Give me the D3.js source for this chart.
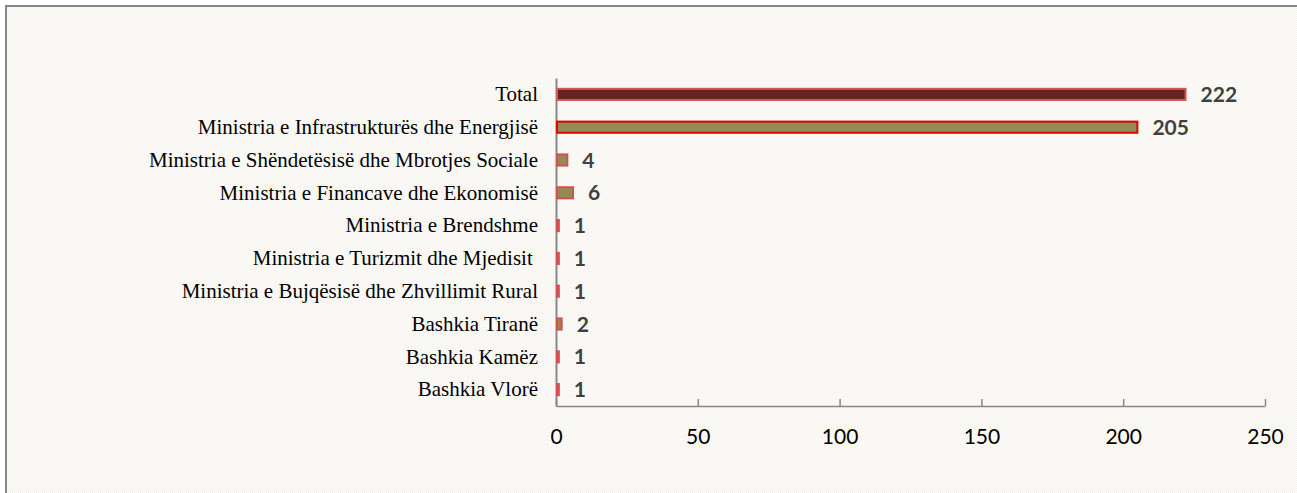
<!DOCTYPE html>
<html>
<head>
<meta charset="utf-8">
<script src="https://cdn.jsdelivr.net/npm/d3@7"></script>
<style>
body { margin: 0; background: #fff; }
svg { display: block; }
</style>
</head>
<body>
<svg width="1297" height="493"></svg>
<script>
const categories = [
  "Total",
  "Ministria e Infrastrukturës dhe Energjisë",
  "Ministria e Shëndetësisë dhe Mbrotjes Sociale",
  "Ministria e Financave dhe Ekonomisë",
  "Ministria e Brendshme",
  "Ministria e Turizmit dhe Mjedisit ",
  "Ministria e Bujqësisë dhe Zhvillimit Rural",
  "Bashkia Tiranë",
  "Bashkia Kamëz",
  "Bashkia Vlorë"
]
const values = [222, 205, 4, 6, 1, 1, 1, 2, 1, 1]
const xTicks = [0, 50, 100, 150, 200, 250]

const data = categories.map((c, i) => ({cat: c, value: values[i], total: i === 0}))

const svg = d3.select("svg"),
margin = {top: 78, right: 32, bottom: 87, left: 556},
width = +svg.attr("width") - margin.left - margin.right,
height = +svg.attr("height") - margin.top - margin.bottom

// fine checker background
const defs = svg.append("defs")
const pat = defs.append("pattern")
  .attr("id", "chk")
  .attr("width", 2).attr("height", 2)
  .attr("patternUnits", "userSpaceOnUse")
pat.append("rect").attr("width", 2).attr("height", 2).attr("fill", "#ffffff")
pat.append("rect").attr("width", 1).attr("height", 1).attr("fill", "#f4f2ea")
pat.append("rect").attr("x", 1).attr("y", 1).attr("width", 1).attr("height", 1).attr("fill", "#f4f2ea")

svg.append("rect")
  .attr("x", 6).attr("y", 6)
  .attr("width", 1297).attr("height", 493)
  .attr("fill", "url(#chk)")

svg.append("path")
  .attr("d", "M6,493V6H1297")
  .attr("fill", "none")
  .attr("stroke", "#888")
  .attr("stroke-width", 2)

const x = d3.scaleLinear()
  .domain([0, 250])
  .range([0, width])

const y = d3.scaleBand()
  .domain(categories)
  .range([0, height])
  .paddingInner(0.66)
  .paddingOuter(0.33)

const g = svg.append("g")
  .attr("transform", `translate(${margin.left}, ${margin.top})`)

// x axis
const xAxis = g.append("g")
  .attr("transform", `translate(0, ${height})`)
  .call(d3.axisBottom(x).tickValues(xTicks).tickSizeInner(-7).tickSizeOuter(0).tickPadding(23))
xAxis.selectAll("line, path").attr("stroke", "#888").attr("stroke-width", 1.5)
xAxis.selectAll("text")
  .attr("fill", "#000")
  .style("font-family", "Lato, 'Open Sans', sans-serif")
  .style("font-size", "21px")

// y axis
const yAxis = g.append("g")
  .call(d3.axisLeft(y).tickSize(0).tickPadding(18))
yAxis.select(".domain").attr("stroke", "#888").attr("stroke-width", 2)
yAxis.selectAll("text")
  .attr("fill", "#000")
  .style("white-space", "pre")
  .style("font-family", "'Liberation Serif', 'Times New Roman', serif")
  .style("font-size", "21px")

// bars
g.selectAll(".bar")
  .data(data)
  .enter()
  .append("rect")
  .attr("class", "bar")
  .attr("x", 1)
  .attr("y", d => y(d.cat))
  .attr("width", d => Math.max(x(d.value) - 1, 1))
  .attr("height", y.bandwidth())
  .attr("fill", d => d.total ? "#632523" : (d.value < 2 ? "#d65050" : "#948a54"))
  .attr("stroke", d => d.total ? "#cf5a58" : (d.value > 100 ? "#e00000" : "#d65050"))
  .attr("stroke-width", 2)

// value labels
g.selectAll(".val")
  .data(data)
  .enter()
  .append("text")
  .attr("class", "val")
  .attr("x", d => x(d.value) + 15)
  .attr("y", d => y(d.cat) + y.bandwidth() / 2)
  .attr("dy", "0.36em")
  .attr("fill", "#404040")
  .style("font-family", "Lato, 'Open Sans', sans-serif")
  .style("font-weight", "bold")
  .style("font-size", "21px")
  .text(d => d.value)
</script>
</body>
</html>
